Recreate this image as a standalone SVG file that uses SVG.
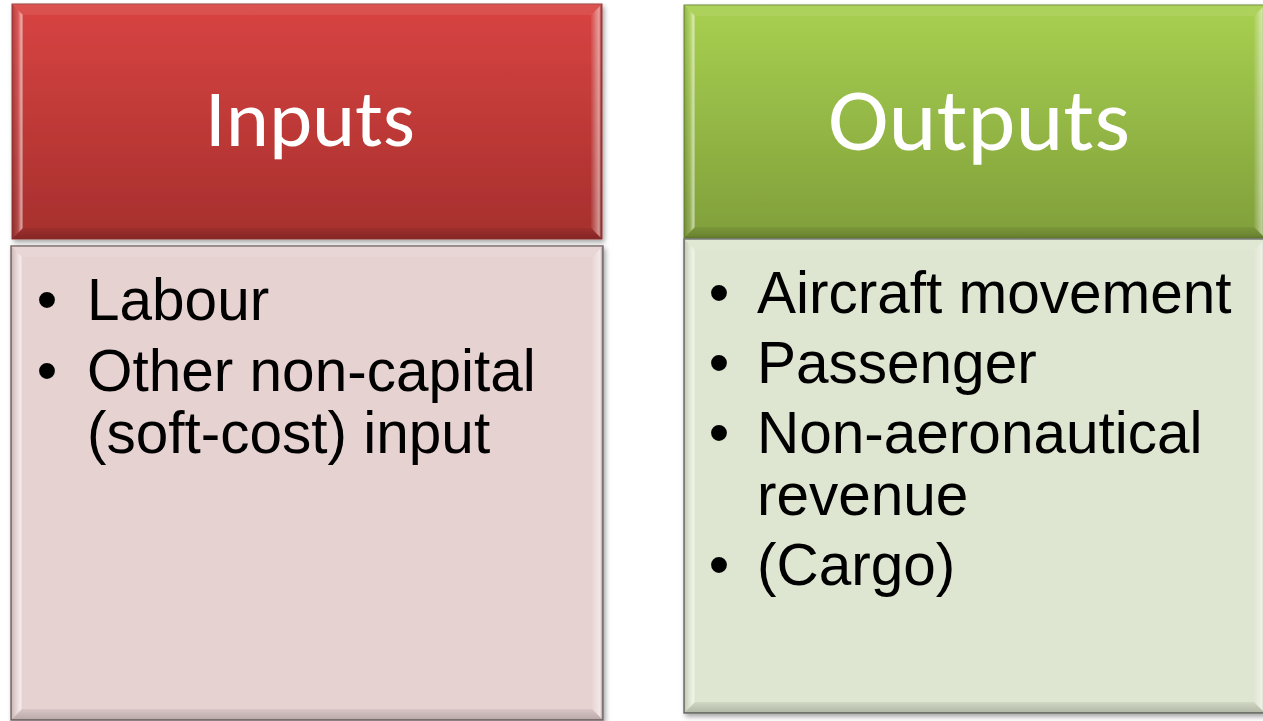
<svg xmlns="http://www.w3.org/2000/svg" width="1263" height="721" viewBox="0 0 1263 721">
  <defs>
    <linearGradient id="redFill" x1="0" y1="0" x2="0" y2="1">
      <stop offset="0" stop-color="#D84442"/>
      <stop offset="1" stop-color="#A62F2D"/>
    </linearGradient>
    <linearGradient id="greenFill" x1="0" y1="0" x2="0" y2="1">
      <stop offset="0" stop-color="#A8D050"/>
      <stop offset="1" stop-color="#809F3B"/>
    </linearGradient>
    <!-- bevel shading, applied per edge strip -->
    <linearGradient id="bevLeft" x1="0" y1="0" x2="1" y2="0">
      <stop offset="0" stop-color="#000" stop-opacity="0.14"/>
      <stop offset="0.55" stop-color="#fff" stop-opacity="0.12"/>
      <stop offset="0.85" stop-color="#fff" stop-opacity="0.55"/>
      <stop offset="1" stop-color="#fff" stop-opacity="0.2"/>
    </linearGradient>
    <linearGradient id="bevRight" x1="0" y1="0" x2="1" y2="0">
      <stop offset="0" stop-color="#fff" stop-opacity="0.05"/>
      <stop offset="0.75" stop-color="#fff" stop-opacity="0.5"/>
      <stop offset="1" stop-color="#000" stop-opacity="0.15"/>
    </linearGradient>
    <linearGradient id="bevBottom" x1="0" y1="0" x2="0" y2="1">
      <stop offset="0" stop-color="#000" stop-opacity="0.06"/>
      <stop offset="1" stop-color="#000" stop-opacity="0.2"/>
    </linearGradient>
    <filter id="shadow" x="-5%" y="-5%" width="110%" height="110%">
      <feDropShadow dx="2" dy="3" stdDeviation="2.5" flood-color="#000" flood-opacity="0.35"/>
    </filter>
    <style>
      .head { font-family: Calibri, Lato, "Open Sans", sans-serif; fill: #ffffff; }
      .body { font-family: "Liberation Sans", Arial, sans-serif; font-size: 58.5px; fill: #000000; }
      .bul { text-anchor: middle; }
      .bt { fill: #ffffff; fill-opacity: 0.08; }
      .bl { fill: url(#bevLeft); }
      .br { fill: url(#bevRight); }
      .bb { fill: url(#bevBottom); }
      .redEdge { fill: url(#redFill); stroke: #9A3A38; stroke-width: 1; }
      .greenEdge { fill: url(#greenFill); stroke: #6E8A34; stroke-width: 1; }
      .pinkBox { fill: #E7D2D2; stroke: #7C6E6E; stroke-width: 1.5; }
      .sageBox { fill: #DEE5D0; stroke: #6E716A; stroke-width: 1.5; }
    </style>
  </defs>

  <rect width="1263" height="721" fill="#ffffff"/>

  <!-- Inputs column: header -->
  <g id="inputs-header">
    <rect class="redEdge" x="12" y="4" width="590" height="235" filter="url(#shadow)"/>
    <polygon class="bt" points="12,4 602,4 591,15 23,15"/>
    <polygon class="bl" points="12,4 23,15 23,228 12,239"/>
    <polygon class="br" points="602,4 602,239 591,228 591,15"/>
    <polygon class="bb" points="12,239 602,239 591,228 23,228"/>
    <text class="head" x="205" y="146" font-size="80" textLength="210" lengthAdjust="spacingAndGlyphs">Inputs</text>
  </g>

  <!-- Inputs column: list -->
  <g id="inputs-body">
    <rect class="pinkBox" x="11" y="246" width="592" height="474" filter="url(#shadow)"/>
    <polygon class="bt" points="11,246 603,246 592,257 22,257"/>
    <polygon class="bl" points="11,246 22,257 22,709 11,720"/>
    <polygon class="br" points="603,246 603,720 592,709 592,257"/>
    <polygon class="bb" points="11,720 603,720 592,709 22,709"/>
    <text class="body bul" x="47" y="320">•</text>
    <text class="body" x="87" y="320">Labour</text>
    <text class="body bul" x="47" y="391">•</text>
    <text class="body" x="87" y="391">Other non-capital</text>
    <text class="body" x="87" y="453">(soft-cost) input</text>
  </g>

  <!-- Outputs column: header -->
  <g id="outputs-header">
    <rect class="greenEdge" x="684" y="5" width="581" height="233" filter="url(#shadow)"/>
    <polygon class="bt" points="684,5 1265,5 1254,16 695,16"/>
    <polygon class="bl" points="684,5 695,16 695,227 684,238"/>
    <polygon class="br" points="1265,5 1265,238 1254,227 1254,16"/>
    <polygon class="bb" points="684,238 1265,238 1254,227 695,227"/>
    <text class="head" x="828" y="150" font-size="89" textLength="302" lengthAdjust="spacingAndGlyphs">Outputs</text>
  </g>

  <!-- Outputs column: list -->
  <g id="outputs-body">
    <rect class="sageBox" x="684" y="239" width="581" height="474" filter="url(#shadow)"/>
    <polygon class="bt" points="684,239 1265,239 1254,250 695,250"/>
    <polygon class="bl" points="684,239 695,250 695,702 684,713"/>
    <polygon class="br" points="1265,239 1265,713 1254,702 1254,250"/>
    <polygon class="bb" points="684,713 1265,713 1254,702 695,702"/>
    <text class="body bul" x="719" y="313">•</text>
    <text class="body" x="757" y="313">Aircraft movement</text>
    <text class="body bul" x="719" y="383">•</text>
    <text class="body" x="757" y="383">Passenger</text>
    <text class="body bul" x="719" y="453">•</text>
    <text class="body" x="757" y="453">Non-aeronautical</text>
    <text class="body" x="757" y="515">revenue</text>
    <text class="body bul" x="719" y="585">•</text>
    <text class="body" x="757" y="585">(Cargo)</text>
  </g>

  <!-- no connectors between the columns -->
  <g id="connectors"/>
</svg>
